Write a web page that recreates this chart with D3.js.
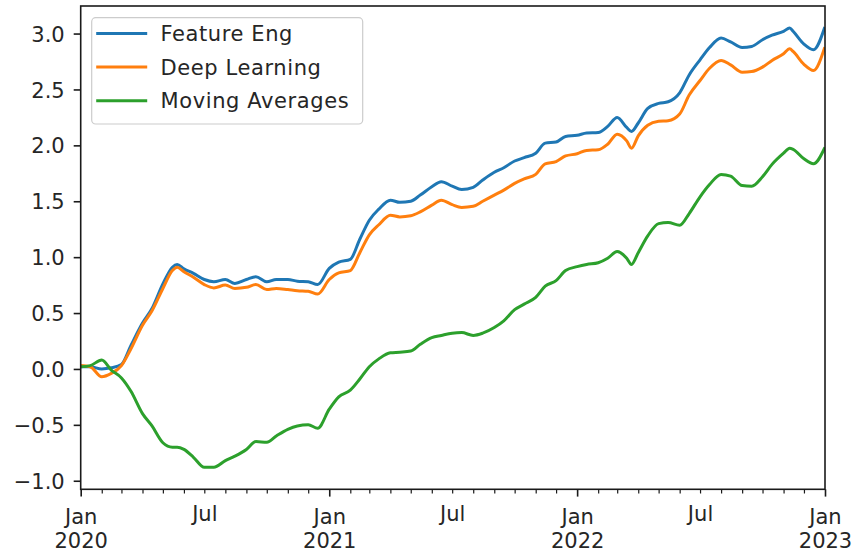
<!DOCTYPE html>
<html><head><meta charset="utf-8">
<script src="https://cdn.jsdelivr.net/npm/d3@7"></script>
<style>
body{margin:0;background:#fff}
svg{display:block}
text{font-family:"DejaVu Sans",sans-serif;fill:#262626}
</style>
</head><body><svg id="c" width="852" height="552"></svg>
<script>
// ---------------- data ----------------
const dates = [
 "2020-01-01","2020-01-15","2020-02-01","2020-02-15","2020-03-01","2020-03-15","2020-04-01","2020-04-15",
 "2020-05-01","2020-05-15","2020-05-22","2020-06-01","2020-06-15","2020-07-01","2020-07-15","2020-08-01",
 "2020-08-15","2020-09-01","2020-09-15","2020-10-01","2020-10-15","2020-11-01","2020-11-15","2020-12-01","2020-12-15",
 "2021-01-01","2021-01-15","2021-02-01","2021-02-15","2021-03-01","2021-03-15","2021-04-01","2021-04-15",
 "2021-05-01","2021-05-15","2021-06-01","2021-06-15","2021-07-01","2021-07-15","2021-08-01","2021-08-15",
 "2021-09-01","2021-09-15","2021-10-01","2021-10-15","2021-11-01","2021-11-15","2021-12-01","2021-12-15",
 "2022-01-01","2022-01-15","2022-02-01","2022-02-15","2022-03-01","2022-03-15","2022-03-22","2022-04-01",
 "2022-04-15","2022-05-01","2022-05-15","2022-06-01","2022-06-15","2022-07-01","2022-07-15","2022-08-01",
 "2022-08-15","2022-09-01","2022-09-15","2022-10-01","2022-10-15","2022-11-01","2022-11-10","2022-11-15",
 "2022-12-01","2022-12-15","2022-12-31"
];
const featureEng = [
 0.02,0.02,0.00,0.01,0.04,0.21,0.41,0.54,0.76,0.91,0.935,0.895,0.855,0.80,0.78,0.80,0.765,0.80,0.825,0.78,0.80,0.80,0.785,0.78,0.755,
 0.90,0.955,0.98,1.16,1.33,1.43,1.51,1.49,1.50,1.555,1.63,1.675,1.635,1.605,1.625,1.69,1.76,1.80,1.86,1.89,1.93,2.02,2.03,2.08,
 2.09,2.11,2.115,2.17,2.25,2.16,2.125,2.20,2.33,2.375,2.39,2.47,2.63,2.765,2.875,2.96,2.925,2.875,2.885,2.945,2.985,3.02,3.05,3.02,2.905,2.855,3.045
];
const deepLearning = [
 0.03,0.02,-0.07,-0.04,0.03,0.18,0.39,0.52,0.72,0.88,0.91,0.87,0.82,0.755,0.725,0.75,0.72,0.73,0.755,0.71,0.72,0.71,0.70,0.695,0.67,
 0.80,0.86,0.88,1.04,1.20,1.29,1.375,1.36,1.37,1.405,1.465,1.51,1.47,1.445,1.455,1.50,1.555,1.60,1.66,1.70,1.74,1.835,1.855,1.905,
 1.925,1.955,1.96,2.01,2.10,2.04,1.975,2.085,2.18,2.215,2.22,2.28,2.45,2.58,2.69,2.76,2.72,2.655,2.66,2.70,2.76,2.82,2.865,2.84,2.725,2.67,2.865
];
const movingAverages = [
 0.02,0.03,0.08,-0.01,-0.08,-0.20,-0.40,-0.51,-0.66,-0.70,-0.70,-0.72,-0.79,-0.88,-0.88,-0.82,-0.78,-0.72,-0.65,-0.655,-0.60,-0.54,-0.51,-0.50,-0.53,
 -0.36,-0.25,-0.19,-0.09,0.02,0.09,0.145,0.15,0.16,0.22,0.28,0.30,0.32,0.325,0.30,0.32,0.37,0.43,0.53,0.58,0.64,0.74,0.79,0.88,
 0.915,0.935,0.95,0.99,1.05,0.99,0.935,1.04,1.19,1.30,1.31,1.285,1.39,1.54,1.65,1.74,1.725,1.64,1.635,1.72,1.83,1.93,1.975,1.965,1.88,1.835,1.97
];
const seriesNames = ["Feature Eng","Deep Learning","Moving Averages"];
const seriesColors = ["#1f77b4","#ff7f0e","#2ca02c"];
const yTicks = [-1.0,-0.5,0.0,0.5,1.0,1.5,2.0,2.5,3.0];
const xMajorTicks = ["2020-01-01","2021-01-01","2022-01-01","2023-01-01"];
const xMajorLabels = [["Jan","2020"],["Jan","2021"],["Jan","2022"],["Jan","2023"]];
const xMidTicks = ["2020-07-01","2021-07-01","2022-07-01"];
const xMidLabel = "Jul";

// ---------------- layout ----------------
const FS = 21;
const plot = {left:80.7, right:825, top:6, bottom:489.3};
const parse = d3.utcParse("%Y-%m-%d");
const svg = d3.select("#c");

const x = d3.scaleUtc()
  .domain([parse(xMajorTicks[0]), parse(xMajorTicks[xMajorTicks.length-1])])
  .range([plot.left, plot.right]);
const all = featureEng.concat(deepLearning, movingAverages);
const lo = d3.min(all), hi = d3.max(all), pad = (hi-lo)*0.05;
const y = d3.scaleLinear().domain([lo-pad, hi+pad]).range([plot.bottom, plot.top]);

svg.append("defs").append("clipPath").attr("id","clip")
  .append("rect").attr("x",plot.left).attr("y",plot.top)
  .attr("width",plot.right-plot.left).attr("height",plot.bottom-plot.top);

// lines
const parsedDates = dates.map(parse);
const seriesVals = [featureEng, deepLearning, movingAverages];
const line = d3.line().x(d=>x(d[0])).y(d=>y(d[1])).curve(d3.curveMonotoneX);
const gLines = svg.append("g").attr("clip-path","url(#clip)");
seriesVals.forEach((vals,i)=>{
  gLines.append("path")
    .datum(vals.map((v,j)=>[parsedDates[j], v]))
    .attr("d", line)
    .attr("fill","none")
    .attr("stroke", seriesColors[i])
    .attr("stroke-width", 3)
    .attr("stroke-linejoin","round")
    .attr("stroke-linecap","square");
});

// frame
svg.append("rect").attr("x",plot.left).attr("y",plot.top)
  .attr("width",plot.right-plot.left).attr("height",plot.bottom-plot.top)
  .attr("fill","none").attr("stroke","#1a1a1a").attr("stroke-width",1.6);

// y axis
const yAxis = svg.append("g").attr("transform",`translate(${plot.left},0)`)
  .call(d3.axisLeft(y).tickValues(yTicks).tickSize(7).tickPadding(9).tickFormat(d3.format(".1f")));
yAxis.select(".domain").remove();
yAxis.selectAll(".tick line").attr("stroke","#1a1a1a").attr("stroke-width",1.6);
yAxis.selectAll(".tick text").attr("font-size",FS).attr("font-family","DejaVu Sans").attr("fill","#262626").attr("dy","0.36em");

// x axis minor (monthly) ticks
const minorDates = d3.utcMonth.range(x.domain()[0], x.domain()[1]).filter(d=>d.getUTCMonth()!==0);
const xMinor = svg.append("g").attr("transform",`translate(0,${plot.bottom})`)
  .call(d3.axisBottom(x).tickValues(minorDates).tickSize(4.2).tickFormat(""));
xMinor.select(".domain").remove();
xMinor.selectAll(".tick line").attr("stroke","#1a1a1a").attr("stroke-width",1.2);

// Jul labels
const xMid = svg.append("g").attr("transform",`translate(0,${plot.bottom})`)
  .call(d3.axisBottom(x).tickValues(xMidTicks.map(parse)).tickSize(0).tickFormat(()=>xMidLabel));
xMid.select(".domain").remove();
xMid.selectAll(".tick text").attr("font-size",FS).attr("font-family","DejaVu Sans").attr("fill","#262626")
  .attr("y",31.4).attr("dy",null);

// x axis major ticks
const xMajor = svg.append("g").attr("transform",`translate(0,${plot.bottom})`)
  .call(d3.axisBottom(x).tickValues(xMajorTicks.map(parse)).tickSize(7.3).tickFormat(""));
xMajor.select(".domain").remove();
xMajor.selectAll(".tick line").attr("stroke","#1a1a1a").attr("stroke-width",1.6);
xMajor.selectAll(".tick").each(function(d,i){
  const t = d3.select(this).select("text")
    .attr("font-size",FS).attr("font-family","DejaVu Sans").attr("fill","#262626")
    .attr("y",35.2).attr("dy",null).text(null);
  t.append("tspan").attr("x",0).text(xMajorLabels[i][0]);
  t.append("tspan").attr("x",0).attr("dy",24).text(xMajorLabels[i][1]);
});

// legend
const lg = svg.append("g");
lg.append("rect").attr("x",91.7).attr("y",17.7).attr("width",271).attr("height",106.3)
  .attr("rx",4).attr("fill","#fff").attr("fill-opacity",0.8)
  .attr("stroke","#cccccc").attr("stroke-width",1.2);
seriesNames.forEach((name,i)=>{
  const cy = 33.5 + i*33.6;
  lg.append("line").attr("x1",97.7).attr("x2",145.7).attr("y1",cy).attr("y2",cy)
    .attr("stroke",seriesColors[i]).attr("stroke-width",3).attr("stroke-linecap","square");
  lg.append("text").attr("x",160.5).attr("y",cy).attr("dy","0.36em")
    .attr("font-size",FS).attr("letter-spacing","0.6px").text(name);
});
</script>
</body></html>
